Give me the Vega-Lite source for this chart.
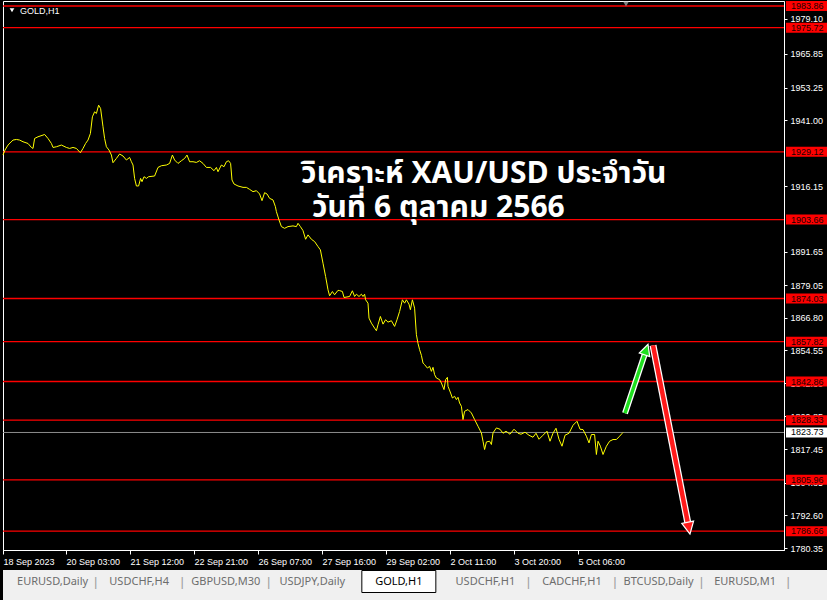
{
  "$schema": "https://vega.github.io/schema/vega-lite/v6.json",
  "background": "#000000",
  "padding": 0,
  "spacing": 3,
  "config": {"view": {"stroke": null}, "font": "Liberation Sans", "axis": {"grid": false}},
  "datasets": {
    "price": [
      {"bar":0,"price":1927.90},{"bar":1,"price":1929.78},{"bar":2.5,"price":1931.65},{"bar":5,"price":1933.52},{"bar":6.7,"price":1933.75},{"bar":8.3,"price":1933.52},{"bar":10,"price":1932.89},{"bar":12.5,"price":1932.25},{"bar":14.2,"price":1930.75},{"bar":15,"price":1930.38},{"bar":15.8,"price":1934.12},{"bar":17.5,"price":1934.76},{"bar":20,"price":1935.40},{"bar":20.8,"price":1935.62},{"bar":22.5,"price":1934.12},{"bar":24.2,"price":1932.25},{"bar":25,"price":1930.75},{"bar":26.7,"price":1931.01},{"bar":29.2,"price":1931.65},{"bar":31.7,"price":1930.75},{"bar":33.3,"price":1930.38},{"bar":35,"price":1930.75},{"bar":36.7,"price":1930.38},{"bar":38.7,"price":1928.76},{"bar":40,"price":1930.38},{"bar":41.3,"price":1932.25},{"bar":42.5,"price":1933.52},{"bar":43.7,"price":1936.00},{"bar":44.7,"price":1942.26},{"bar":45.8,"price":1944.13},{"bar":46.7,"price":1943.49},{"bar":47.8,"price":1946.64},{"bar":48.8,"price":1945.37},{"bar":50,"price":1938.51},{"bar":50.8,"price":1934.12},{"bar":51.7,"price":1931.01},{"bar":53,"price":1929.78},{"bar":54.2,"price":1927.90},{"bar":55,"price":1925.02},{"bar":56.7,"price":1926.63},{"bar":58.3,"price":1928.28},{"bar":60,"price":1927.53},{"bar":61.7,"price":1926.03},{"bar":63.3,"price":1927.00},{"bar":64.2,"price":1925.39},{"bar":65,"price":1924.15},{"bar":65.8,"price":1919.13},{"bar":66.7,"price":1916.28},{"bar":67.8,"price":1916.28},{"bar":68.8,"price":1919.13},{"bar":69.5,"price":1917.89},{"bar":70.5,"price":1919.77},{"bar":71.7,"price":1919.13},{"bar":72.8,"price":1919.77},{"bar":75.8,"price":1920.03},{"bar":77.5,"price":1923.25},{"bar":79.2,"price":1923.89},{"bar":81.7,"price":1924.15},{"bar":83.3,"price":1924.75},{"bar":84.7,"price":1927.90},{"bar":85.8,"price":1926.03},{"bar":87.5,"price":1924.75},{"bar":89.2,"price":1925.76},{"bar":90.8,"price":1926.63},{"bar":92,"price":1927.90},{"bar":93.3,"price":1925.39},{"bar":95,"price":1925.39},{"bar":96.7,"price":1925.13},{"bar":98.3,"price":1925.76},{"bar":100,"price":1924.75},{"bar":101.7,"price":1923.25},{"bar":103.8,"price":1923.25},{"bar":105.5,"price":1922.02},{"bar":106.7,"price":1923.25},{"bar":107.5,"price":1921.64},{"bar":109.2,"price":1924.15},{"bar":110.5,"price":1923.52},{"bar":111.7,"price":1925.39},{"bar":112.8,"price":1925.76},{"bar":113.8,"price":1924.75},{"bar":114.5,"price":1918.53},{"bar":115.5,"price":1917.03},{"bar":117.5,"price":1916.28},{"bar":120,"price":1915.76},{"bar":121.7,"price":1915.76},{"bar":123.3,"price":1915.01},{"bar":125,"price":1914.15},{"bar":126.7,"price":1914.52},{"bar":128.3,"price":1913.28},{"bar":129.5,"price":1910.77},{"bar":130.8,"price":1913.77},{"bar":132,"price":1913.28},{"bar":133.3,"price":1911.64},{"bar":135,"price":1911.04},{"bar":136.2,"price":1908.52},{"bar":136.7,"price":1906.65},{"bar":138,"price":1903.54},{"bar":139.2,"price":1901.03},{"bar":140.8,"price":1900.39},{"bar":142.5,"price":1901.03},{"bar":145,"price":1901.29},{"bar":146.7,"price":1901.03},{"bar":147.5,"price":1902.26},{"bar":148.7,"price":1901.03},{"bar":150,"price":1899.53},{"bar":151.3,"price":1896.27},{"bar":152.5,"price":1897.92},{"bar":154.2,"price":1896.27},{"bar":155.8,"price":1895.41},{"bar":157.5,"price":1893.53},{"bar":158.7,"price":1892.29},{"bar":160,"price":1887.27},{"bar":161.3,"price":1882.29},{"bar":162.5,"price":1877.30},{"bar":163.3,"price":1875.05},{"bar":164.7,"price":1876.66},{"bar":165.8,"price":1875.43},{"bar":167.5,"price":1877.10},{"bar":168.3,"price":1877.00},{"bar":169.7,"price":1876.66},{"bar":170.5,"price":1874.42},{"bar":173.3,"price":1874.79},{"bar":174.7,"price":1876.93},{"bar":175.8,"price":1874.79},{"bar":176.7,"price":1875.65},{"bar":178,"price":1874.79},{"bar":179.2,"price":1875.65},{"bar":180,"price":1874.79},{"bar":180.8,"price":1875.65},{"bar":181.3,"price":1873.55},{"bar":182.5,"price":1872.28},{"bar":183,"price":1866.66},{"bar":184.2,"price":1864.78},{"bar":185.8,"price":1862.91},{"bar":186.7,"price":1861.93},{"bar":187.5,"price":1864.18},{"bar":188.7,"price":1867.29},{"bar":190,"price":1864.41},{"bar":191.3,"price":1866.06},{"bar":192.5,"price":1865.16},{"bar":194.2,"price":1865.68},{"bar":195.8,"price":1863.55},{"bar":197,"price":1866.06},{"bar":198.3,"price":1869.17},{"bar":199.7,"price":1873.55},{"bar":200.8,"price":1872.28},{"bar":201.7,"price":1873.55},{"bar":203,"price":1871.91},{"bar":203.7,"price":1869.81},{"bar":204.7,"price":1873.55},{"bar":205.8,"price":1870.41},{"bar":206.7,"price":1860.44},{"bar":207.5,"price":1857.17},{"bar":208.3,"price":1854.82},{"bar":209.2,"price":1852.68},{"bar":210,"price":1849.79},{"bar":210.8,"price":1849.19},{"bar":212.2,"price":1847.92},{"bar":213.3,"price":1848.55},{"bar":214.2,"price":1846.68},{"bar":215,"price":1848.18},{"bar":215.8,"price":1845.44},{"bar":216.7,"price":1844.17},{"bar":218.3,"price":1843.57},{"bar":219.2,"price":1842.29},{"bar":220.5,"price":1839.82},{"bar":221.3,"price":1843.57},{"bar":222.2,"price":1844.43},{"bar":222.5,"price":1841.06},{"bar":223.8,"price":1838.55},{"bar":224.7,"price":1836.67},{"bar":225.8,"price":1837.31},{"bar":226.7,"price":1836.07},{"bar":227.5,"price":1836.94},{"bar":228.3,"price":1834.80},{"bar":229.2,"price":1833.56},{"bar":230,"price":1828.58},{"bar":230.8,"price":1831.69},{"bar":232.5,"price":1832.33},{"bar":234.2,"price":1831.05},{"bar":235.8,"price":1828.58},{"bar":237.5,"price":1826.07},{"bar":239.2,"price":1823.56},{"bar":240,"price":1820.44},{"bar":240.8,"price":1817.33},{"bar":241.7,"price":1820.18},{"bar":243.3,"price":1820.44},{"bar":244.2,"price":1819.21},{"bar":245,"price":1823.56},{"bar":246.7,"price":1825.43},{"bar":248.5,"price":1824.94},{"bar":250,"price":1823.44},{"bar":251.5,"price":1824.19},{"bar":253.5,"price":1823.07},{"bar":255.5,"price":1824.94},{"bar":257.5,"price":1823.44},{"bar":259,"price":1823.07},{"bar":261,"price":1823.82},{"bar":263,"price":1822.69},{"bar":265,"price":1821.94},{"bar":266.5,"price":1823.44},{"bar":268,"price":1821.19},{"bar":270,"price":1822.69},{"bar":272,"price":1824.19},{"bar":273.5,"price":1820.44},{"bar":275,"price":1823.44},{"bar":276.5,"price":1825.32},{"bar":278,"price":1821.19},{"bar":279.5,"price":1818.57},{"bar":281,"price":1822.69},{"bar":283,"price":1823.44},{"bar":285,"price":1826.44},{"bar":287,"price":1827.94},{"bar":288.5,"price":1824.94},{"bar":290,"price":1824.82},{"bar":291.7,"price":1822.32},{"bar":293,"price":1819.81},{"bar":294.2,"price":1822.96},{"bar":295.8,"price":1822.96},{"bar":296.7,"price":1815.46},{"bar":297.5,"price":1820.44},{"bar":298.7,"price":1818.57},{"bar":300,"price":1815.46},{"bar":301.7,"price":1818.57},{"bar":303.3,"price":1820.44},{"bar":305,"price":1821.08},{"bar":306.7,"price":1821.08},{"bar":308.3,"price":1822.32},{"bar":309.5,"price":1823.33},{"bar":310,"price":1823.73}
    ],
    "levels": [
      {"price":1983.86},{"price":1975.72},{"price":1929.12},{"price":1903.66},{"price":1874.03},{"price":1857.82},{"price":1842.86},{"price":1828.33},{"price":1805.96},{"price":1786.66}
    ],
    "current": [{"price":1823.73}],
    "arrows": [
      {"name":"up","x1":311,"y1":1830.95,"x2":321.25,"y2":1853.96,"tipx":322.5,"tipy":1856.81},
      {"name":"down","x1":325,"y1":1856.43,"x2":342.65,"y2":1788.9,"tipx":343.5,"tipy":1785.6}
    ],
    "notes": [
      {"bar":149,"price":1920.9,"text":"วิเคราะห์ XAU/USD ประจำวัน"},
      {"bar":154.5,"price":1908.15,"text":"วันที่ 6 ตุลาคม 2566"}
    ],
    "tabs": [
      {"i":0,"tab":"EURUSD,Daily"},{"i":1,"tab":"USDCHF,H4"},{"i":2,"tab":"GBPUSD,M30"},{"i":3,"tab":"USDJPY,Daily"},{"i":4,"tab":"GOLD,H1"},{"i":5,"tab":"USDCHF,H1"},{"i":6,"tab":"CADCHF,H1"},{"i":7,"tab":"BTCUSD,Daily"},{"i":8,"tab":"EURUSD,M1"}
    ]
  },
  "vconcat": [
    {
      "width": 781,
      "height": 549,
      "view": {"stroke": "#ffffff", "strokeWidth": 1},
      "layer": [
        {
          "data": {"name": "levels"},
          "mark": {"type": "rule", "color": "#ff0000", "strokeWidth": 1.3},
          "encoding": {
            "y": {
              "field": "price", "type": "quantitative",
              "scale": {"domain": [1779.60, 1985.74], "nice": false, "zero": false},
              "axis": {"orient": "right", "title": null, "values": [1979.10, 1965.85, 1953.25, 1941.00, 1916.15, 1891.65, 1879.05, 1866.80, 1854.55, 1842.30, 1829.85, 1817.45, 1804.85, 1792.60, 1780.35], "tickCount": 60, "format": ".2f", "labelColor": "#ffffff", "labelFontSize": 9, "labelFont": "Liberation Sans", "tickColor": "#ffffff", "tickSize": 3, "domainColor": "#ffffff", "labelPadding": 3, "labelOverlap": false, "labelFlush": false, "grid": false}
            }
          }
        },
        {
          "data": {"name": "current"},
          "mark": {"type": "rule", "color": "#8c8c8c", "strokeWidth": 1},
          "encoding": {"y": {"field": "price", "type": "quantitative"}}
        },
        {
          "data": {"name": "price"},
          "mark": {"type": "line", "color": "#ffff00", "strokeWidth": 1, "interpolate": "linear"},
          "encoding": {
            "x": {
              "field": "bar", "type": "quantitative",
              "scale": {"domain": [0, 390.5], "nice": false, "zero": false},
              "axis": {
                "title": null,
                "values": [0, 31.5, 63.5, 95.5, 127.5, 159.5, 191.5, 223.5, 255.5, 287.5],
                "tickCount": 60,
                "labelExpr": "['18 Sep 2023','20 Sep 03:00','21 Sep 12:00','22 Sep 21:00','26 Sep 07:00','27 Sep 16:00','29 Sep 02:00','2 Oct 11:00','3 Oct 20:00','5 Oct 06:00'][indexof([0,31.5,63.5,95.5,127.5,159.5,191.5,223.5,255.5,287.5], datum.value)]",
                "labelAlign": "left", "labelBaseline": "top", "labelColor": "#ffffff", "labelFontSize": 9, "labelFont": "Liberation Sans",
                "tickColor": "#ffffff", "tickSize": 4, "domainColor": "#ffffff", "labelPadding": 3,
                "labelOverlap": false, "labelFlush": false, "labelBound": false, "grid": false
              }
            },
            "y": {"field": "price", "type": "quantitative"}
          }
        },
        {
          "data": {"name": "arrows"},
          "transform": [{"filter": "datum.name === 'up'"}],
          "layer": [
            {"mark": {"type": "rule", "color": "#ffffff", "strokeWidth": 6},
             "encoding": {"x": {"field": "x1", "type": "quantitative"}, "y": {"field": "y1", "type": "quantitative"}, "x2": {"field": "x2"}, "y2": {"field": "y2"}}},
            {"mark": {"type": "rule", "color": "#1ee01e", "strokeWidth": 3.5},
             "encoding": {"x": {"field": "x1", "type": "quantitative"}, "y": {"field": "y1", "type": "quantitative"}, "x2": {"field": "x2"}, "y2": {"field": "y2"}}},
            {"mark": {"type": "point", "shape": "M0,0 L0.5,1 L-0.5,1 Z", "size": 484, "filled": true, "opacity": 1, "color": "#1ee01e", "stroke": "#ffffff", "strokeWidth": 1.2, "angle": 18.4},
             "encoding": {"x": {"field": "tipx", "type": "quantitative"}, "y": {"field": "tipy", "type": "quantitative"}}}
          ]
        },
        {
          "data": {"name": "arrows"},
          "transform": [{"filter": "datum.name === 'down'"}],
          "layer": [
            {"mark": {"type": "rule", "color": "#ffffff", "strokeWidth": 7},
             "encoding": {"x": {"field": "x1", "type": "quantitative"}, "y": {"field": "y1", "type": "quantitative"}, "x2": {"field": "x2"}, "y2": {"field": "y2"}}},
            {"mark": {"type": "rule", "color": "#ff1a1a", "strokeWidth": 4.5},
             "encoding": {"x": {"field": "x1", "type": "quantitative"}, "y": {"field": "y1", "type": "quantitative"}, "x2": {"field": "x2"}, "y2": {"field": "y2"}}},
            {"mark": {"type": "point", "shape": "M0,0 L0.5,1 L-0.5,1 Z", "size": 576, "filled": true, "opacity": 1, "color": "#ff1a1a", "stroke": "#ffffff", "strokeWidth": 1.2, "angle": 168.9},
             "encoding": {"x": {"field": "tipx", "type": "quantitative"}, "y": {"field": "tipy", "type": "quantitative"}}}
          ]
        },
        {
          "data": {"name": "notes"},
          "mark": {"type": "text", "align": "left", "baseline": "middle", "fontSize": 30, "fontWeight": "bold", "color": "#ffffff", "font": "Tahoma, Noto Sans Thai, Leelawadee UI, DejaVu Sans, sans-serif"},
          "encoding": {
            "x": {"field": "bar", "type": "quantitative"},
            "y": {"field": "price", "type": "quantitative"},
            "text": {"field": "text"}
          }
        },
        {
          "data": {"values": [{}]},
          "layer": [
            {"mark": {"type": "point", "shape": "triangle-down", "size": 22, "filled": true, "opacity": 1, "color": "#ffffff"},
             "encoding": {"x": {"datum": 4.5}, "y": {"datum": 1982.3}}},
            {"mark": {"type": "text", "align": "left", "baseline": "middle", "fontSize": 9, "color": "#ffffff", "text": "GOLD,H1"},
             "encoding": {"x": {"datum": 8.5}, "y": {"datum": 1982.0}}},
            {"mark": {"type": "point", "shape": "triangle-down", "size": 30, "filled": true, "opacity": 1, "color": "#7f7f7f"},
             "encoding": {"x": {"datum": 311.5}, "y": {"datum": 1984.6}}}
          ]
        },
        {
          "data": {"name": "levels"},
          "layer": [
            {"mark": {"type": "tick", "orient": "horizontal", "color": "#ff0000", "size": 41, "thickness": 10, "xOffset": 22.5, "opacity": 1},
             "encoding": {"x": {"datum": 390.5}, "y": {"field": "price", "type": "quantitative"}}},
            {"mark": {"type": "text", "align": "left", "baseline": "middle", "dx": 7, "fontSize": 9, "color": "#1a0000"},
             "encoding": {"x": {"datum": 390.5}, "y": {"field": "price", "type": "quantitative"}, "text": {"field": "price", "type": "quantitative", "format": ".2f"}}}
          ]
        },
        {
          "data": {"name": "current"},
          "layer": [
            {"mark": {"type": "tick", "orient": "horizontal", "color": "#ffffff", "size": 41, "thickness": 10, "xOffset": 22.5, "opacity": 1},
             "encoding": {"x": {"datum": 390.5}, "y": {"field": "price", "type": "quantitative"}}},
            {"mark": {"type": "text", "align": "left", "baseline": "middle", "dx": 7, "fontSize": 9, "color": "#000000"},
             "encoding": {"x": {"datum": 390.5}, "y": {"field": "price", "type": "quantitative"}, "text": {"field": "price", "type": "quantitative", "format": ".2f"}}}
          ]
        }
      ]
    },
    {
      "width": 827,
      "height": 31,
      "view": {"fill": "#f0f0f0", "stroke": null},
      "data": {"name": "tabs"},
      "encoding": {
        "x": {"field": "i", "type": "quantitative", "scale": {"domain": [-0.573, 8.981], "nice": false, "zero": false}, "axis": null}
      },
      "layer": [
        {
          "transform": [{"filter": "datum.tab === 'GOLD,H1'"}],
          "mark": {"type": "tick", "orient": "horizontal", "size": 74, "thickness": 22, "color": "#ffffff", "stroke": "#000000", "strokeWidth": 1, "yOffset": -4, "opacity": 1}
        },
        {
          "mark": {"type": "text", "fontSize": 11, "font": "Noto Sans", "dy": -4},
          "encoding": {
            "text": {"field": "tab"},
            "color": {"condition": {"test": "datum.tab === 'GOLD,H1'", "value": "#000000"}, "value": "#6d6d6d"}
          }
        },
        {
          "transform": [{"filter": "datum.i !== 3 && datum.i !== 4"}],
          "mark": {"type": "text", "fontSize": 13, "color": "#a0a0a0", "dx": 43, "dy": -4, "text": "|"}
        },
        {
          "data": {"values": [{}]},
          "mark": {"type": "text", "fontSize": 8, "color": "#a0a0a0", "dy": -4, "text": "◀   ▶"},
          "encoding": {"x": {"datum": 8.78}}
        }
      ]
    }
  ]
}
